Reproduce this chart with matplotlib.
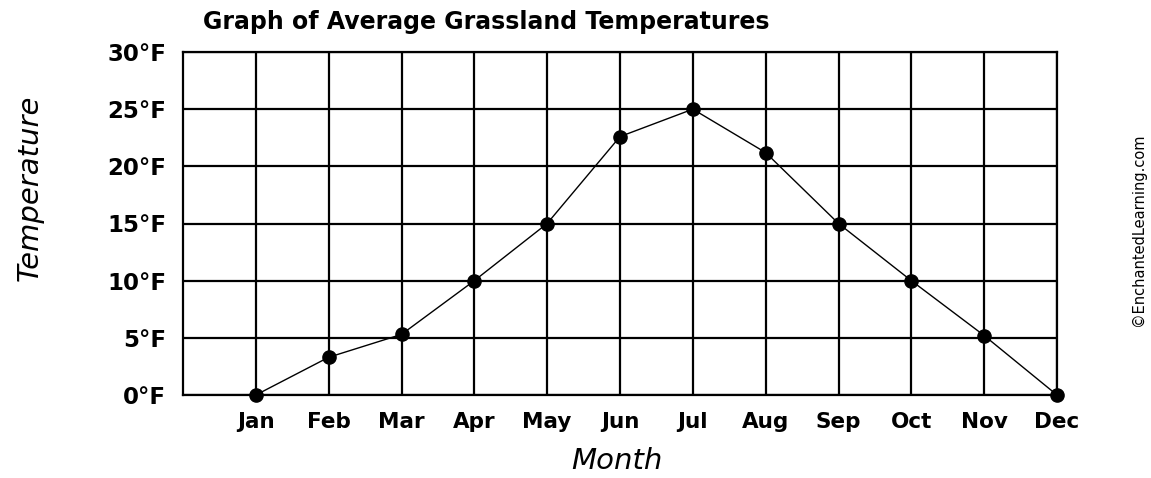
import numpy as np
import matplotlib.pyplot as plt

months = ["Jan", "Feb", "Mar", "Apr", "May", "Jun", "Jul", "Aug", "Sep", "Oct", "Nov", "Dec"]
temps = [0, 3.3, 5.3, 10, 15, 22.6, 25, 21.2, 15, 10, 5.2, 0]
y_ticks = [0, 5, 10, 15, 20, 25, 30]
y_labels = [str(t) + "°F" for t in y_ticks]

fig = plt.figure(figsize=(11.51, 4.78), dpi=100)
ax = fig.add_axes([183 / 1151, 83 / 478, 874 / 1151, 343 / 478])

x = np.arange(1, len(months) + 1)
ax.plot(x, temps, color="black", lw=1.0, marker="o", markersize=9.5,
        markerfacecolor="black", markeredgecolor="black", clip_on=False, zorder=3)

ax.set_xlim(0, 12)
ax.set_ylim(0, 30)
ax.set_xticks(x)
ax.set_xticklabels(months, fontsize=15.5, fontweight="bold")
ax.set_yticks(y_ticks)
ax.set_yticklabels(y_labels, fontsize=16.5, fontweight="bold")
ax.tick_params(axis="y", length=0, pad=12)
ax.tick_params(axis="x", length=0, pad=12)
ax.grid(True, color="black", lw=1.6)
for s in ax.spines.values():
    s.set_linewidth(1.6)

fig.text(617 / 1151, 1 - 461 / 478, "Month", fontsize=21, style="italic",
         va="center", ha="center")
fig.text(30 / 1151, 1 - 188 / 478, "Temperature", fontsize=21, style="italic",
         rotation=90, va="center", ha="center")

fig.text(203 / 1151, 1 - 22 / 478, "Graph of Average Grassland Temperatures",
         fontsize=17, fontweight="bold", va="center", ha="left")
fig.text(1138 / 1151, 1 - 230 / 478, "©EnchantedLearning.com",
         fontsize=10.5, rotation=90, va="center", ha="center")

plt.savefig("out.png", dpi=100)
